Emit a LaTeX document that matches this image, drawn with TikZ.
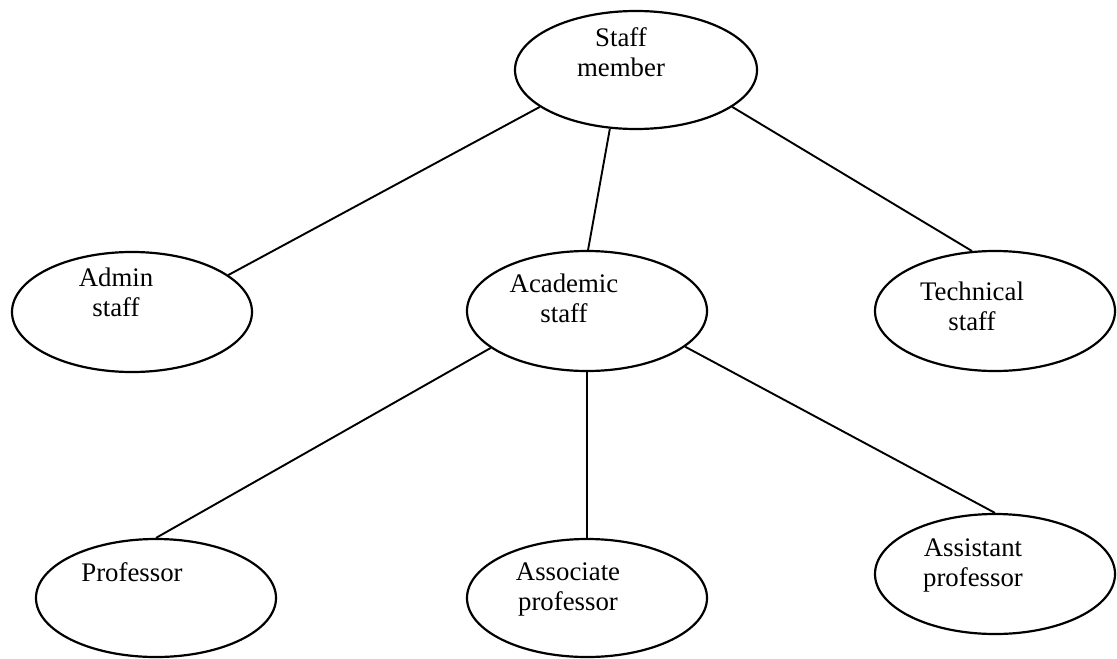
\documentclass[tikz,border=0pt]{standalone}
\usepackage{fontspec}
\setmainfont{Liberation Serif}
\usetikzlibrary{shapes.geometric}
\begin{document}
\begin{tikzpicture}[x=0.5pt,y=-0.5pt,
  oval/.style={draw,ellipse,line width=1.1pt,minimum width=120pt,minimum height=60pt,inner sep=0pt},
  lbl/.style={align=center,anchor=base,inner sep=0pt,font=\fontsize{13.4}{15}\selectfont},
  link/.style={line width=0.95pt}]
\useasboundingbox (0,0) rectangle (1117,658);
% ellipses
\node[oval,minimum width=121pt,minimum height=59pt] (staff) at (636,70) {};
\node[oval] (admin) at (132,312) {};
\node[oval] (acad) at (587,311) {};
\node[oval] (tech) at (995,311) {};
\node[oval,minimum height=59pt] (prof) at (156,598) {};
\node[oval,minimum height=59pt] (assoc) at (587,598) {};
\node[oval] (assist) at (995,574) {};
% labels (base = baseline of last line)
\node[lbl] (staff-t) at (621,76) {Staff\\member};
\node[lbl] (admin-t) at (116,316) {Admin\\staff};
\node[lbl] (acad-t) at (564,322) {Academic\\staff};
\node[lbl] (tech-t) at (972,330) {Technical\\staff};
\node[lbl] (prof-t) at (132,581) {Professor};
\node[lbl] (assoc-t) at (568,610) {Associate\\professor};
\node[lbl] (assist-t) at (973,586) {Assistant\\professor};
% connectors
\draw[link] (staff.201) -- (admin.21);
\draw[link] (staff.246) -- (acad.89);
\draw[link] (staff.339) -- (tech.111);
\draw[link] (acad.201) -- (prof.90);
\draw[link] (acad.270) -- (assoc.90);
\draw[link] (acad.340) -- (assist.90);
\end{tikzpicture}
\end{document}
